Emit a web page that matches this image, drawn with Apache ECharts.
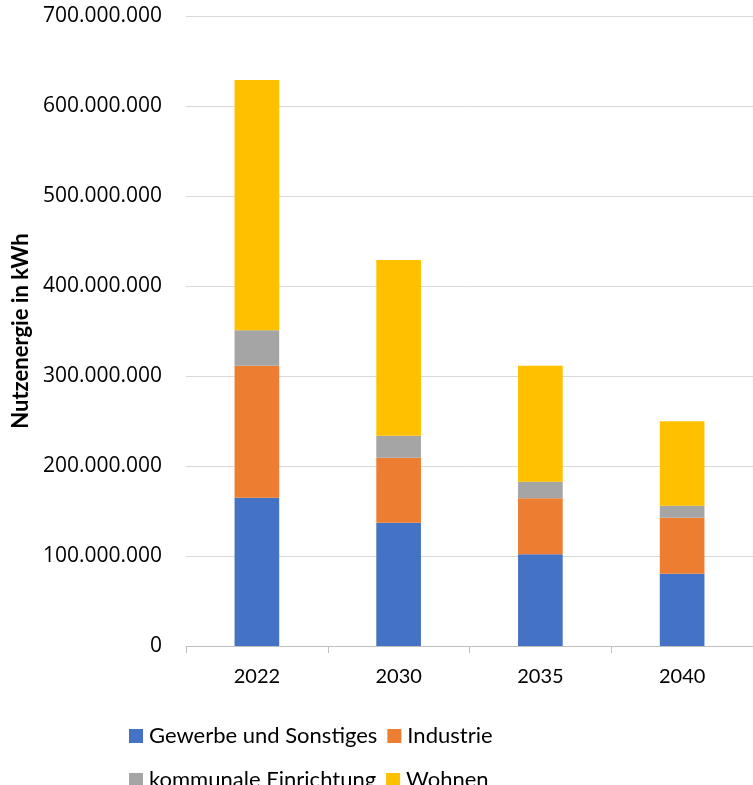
<!DOCTYPE html>
<html><head><meta charset="utf-8">
<script src="https://cdn.jsdelivr.net/npm/echarts@6/dist/echarts.min.js"></script>
<style>html,body{margin:0;padding:0;background:#fff}#c{width:753px;height:785px}</style>
</head><body><div id="c"></div>
<script>
const categories = ['2022', '2030', '2035', '2040'];
const gewerbe = [164800000, 137000000, 101900000, 80300000];
const industrie = [146600000, 72200000, 62200000, 62300000];
const kommunal = [39400000, 24500000, 18500000, 13300000];
const wohnen = [278000000, 195200000, 128800000, 93800000];
const seriesNames = ['Gewerbe und Sonstiges', 'Industrie', 'kommunale Einrichtung', 'Wohnen'];
const colors = ['#4472C4', '#ED7D31', '#A5A5A5', '#FFC000'];

const fmt = v => String(v).replace(/\B(?=(\d{3})+(?!\d))/g, '.');
const chart = echarts.init(document.getElementById('c'));
const data = [gewerbe, industrie, kommunal, wohnen];
const legendText = { fontFamily: 'Lato', fontSize: 22, lineHeight: 22, color: '#000', padding: [0, 0, 0, 1] };
chart.setOption({
  animation: false,
  color: colors,
  grid: { left: 186, top: 16, width: 572, height: 630, containLabel: false },
  legend: [
    { data: [seriesNames[0], seriesNames[1]], left: 124, top: 720, itemWidth: 14, itemHeight: 14, itemGap: 10,
      textStyle: legendText, icon: 'rect' },
    { data: [seriesNames[2], seriesNames[3]], left: 124, top: 764, itemWidth: 14, itemHeight: 14, itemGap: 10,
      textStyle: legendText, icon: 'rect' }
  ],
  xAxis: {
    type: 'category', data: categories,
    axisLine: { lineStyle: { color: '#bfbfbf' } },
    axisTick: { show: true, length: 7, lineStyle: { color: '#bfbfbf' } },
    axisLabel: { fontFamily: 'Lato', fontSize: 20, color: '#000', margin: 21 }
  },
  yAxis: {
    type: 'value', min: 0, max: 700000000, interval: 100000000,
    name: 'Nutzenergie in kWh', nameLocation: 'middle', nameGap: 152, nameRotate: 90,
    nameTextStyle: { fontFamily: 'Lato', fontWeight: 'bold', fontSize: 22, color: '#000' },
    axisLine: { show: false }, axisTick: { show: false },
    splitLine: { lineStyle: { color: '#d9d9d9', width: 1 } },
    axisLabel: { formatter: fmt, fontFamily: 'Open Sans', fontSize: 21, color: '#000', margin: 24 }
  },
  series: data.map((d, i) => ({
    name: seriesNames[i], type: 'bar', stack: 'total', data: d, barWidth: '31.5%'
  }))
});
</script></body></html>
